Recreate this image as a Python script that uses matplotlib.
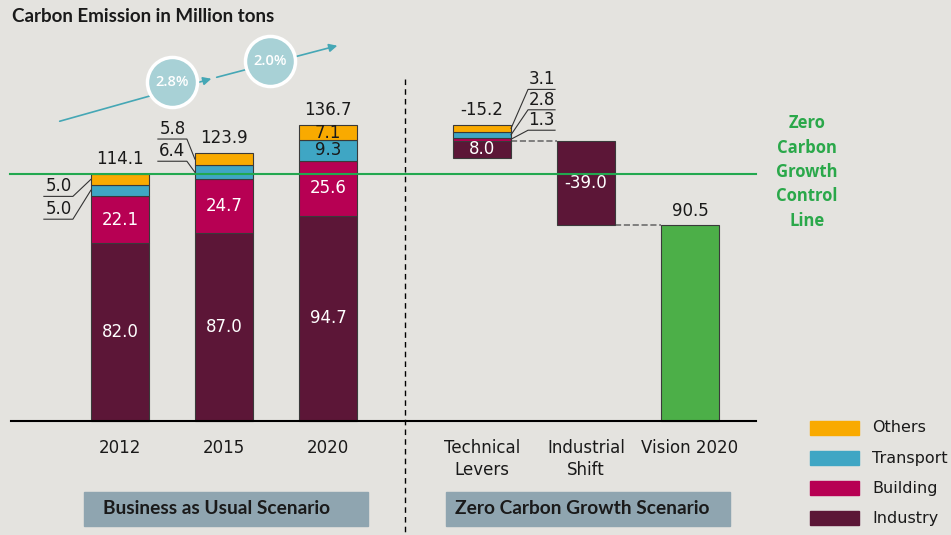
import matplotlib.pyplot as plt
import matplotlib.transforms as mtransforms
from matplotlib.patches import Rectangle

# Business as usual scenario
years = ['2012', '2015', '2020']
industry = [82.0, 87.0, 94.7]
building = [22.1, 24.7, 25.6]
transport = [5.0, 6.4, 9.3]
others = [5.0, 5.8, 7.1]
totals = [114.1, 123.9, 136.7]

# Zero carbon growth scenario
zero_labels = ['Technical\nLevers', 'Industrial\nShift', 'Vision 2020']
levers = [8.0, 1.3, 2.8, 3.1]   # industry, building, transport, others
levers_total = -15.2
industrial_shift = -39.0
vision = 90.5

growth = ['2.8%', '2.0%']
sectors = ['Others', 'Transport', 'Building', 'Industry']
colors = {'Industry': '#5c1637', 'Building': '#b70053',
          'Transport': '#3fa6c4', 'Others': '#f9aa00'}
green = '#4caf48'
line_green = '#22a84f'
bg = '#e4e3df'

W, H = 951, 535
fig = plt.figure(figsize=(W / 100, H / 100), dpi=100, facecolor=bg)
ax = fig.add_axes([0, 0, 1, 1])
ax.set_facecolor(bg)
ax.axis('off')
ax.set_xlim(-120 / 104, (W - 120) / 104)
ax.set_ylim((421 - H) / 2.165, 421 / 2.165)

# pixel transform (x from left, y from top) for layout items
pix = mtransforms.Affine2D().scale(1 / W, -1 / H).translate(0, 1) + fig.transFigure
# x in pixels, y in data units
pix_x = mtransforms.blended_transform_factory(
    mtransforms.Affine2D().scale(1 / W, 1) + fig.transFigure, ax.transData)


def to_pix(x, y):
    dx, dy = ax.transData.transform((x, y))
    return dx, H - dy


xb = [0, 1, 2]
xz = [3.48, 4.48, 5.48]
bw = 0.56
ec = '#3a3a3a'

# stacked bars
bottom = [0, 0, 0]
for name, vals in [('Industry', industry), ('Building', building),
                   ('Transport', transport), ('Others', others)]:
    ax.bar(xb, vals, bw, bottom=bottom, color=colors[name], edgecolor=ec, lw=0.8, zorder=3)
    bottom = [b + v for b, v in zip(bottom, vals)]

# labels inside bars
for i in range(3):
    ax.text(xb[i], industry[i] / 2, f'{industry[i]:.1f}', ha='center', va='center',
            color='white', fontsize=12, zorder=5)
    ax.text(xb[i], industry[i] + building[i] / 2, f'{building[i]:.1f}', ha='center',
            va='center', color='white', fontsize=12, zorder=5)
    ax.annotate(f'{totals[i]:.1f}', (xb[i], totals[i]), xytext=(0, 4),
                textcoords='offset points', ha='center', va='bottom', fontsize=12,
                color='#1a1a1a')
b2 = industry[2] + building[2]
ax.text(xb[2], b2 + transport[2] / 2, f'{transport[2]:.1f}', ha='center', va='center',
        color='#1a1a1a', fontsize=12, zorder=5)
ax.text(xb[2], b2 + transport[2] + others[2] / 2, f'{others[2]:.1f}', ha='center',
        va='center', color='#1a1a1a', fontsize=12, zorder=5)


def leader(x, y, dx, dy, length, label):
    px, py = to_pix(x, y)
    kx, ky = px + dx, py + dy
    ex = kx + length
    ax.plot([px, kx, ex], [py, ky, ky], color='#333333', lw=0.8, transform=pix,
            solid_joinstyle='miter', zorder=4)
    ax.text((kx + ex) / 2, ky - 1, label, ha='center', va='bottom', fontsize=12,
            color='#1a1a1a', transform=pix)


# small segments labelled with leaders
left = [x - bw / 2 for x in xb]
mid_o = [industry[i] + building[i] + transport[i] + others[i] / 2 for i in range(3)]
mid_t = [industry[i] + building[i] + transport[i] / 2 for i in range(3)]
leader(left[0], mid_o[0], -18, 17, -29, f'{others[0]:.1f}')
leader(left[0], mid_t[0], -18, 29, -29, f'{transport[0]:.1f}')
leader(left[1], mid_o[1], -8, -20, -29, f'{others[1]:.1f}')
leader(left[1], mid_t[1], -8, -11, -29, f'{transport[1]:.1f}')

# technical levers (floating stack)
tl_bottom = totals[2] + levers_total
b = tl_bottom
mids = []
for name, v in zip(['Industry', 'Building', 'Transport', 'Others'], levers):
    ax.bar(xz[0], v, bw, bottom=b, color=colors[name], edgecolor=ec, lw=0.8, zorder=3)
    mids.append(b + v / 2)
    b += v
ax.text(xz[0], mids[0], f'{levers[0]:.1f}', ha='center', va='center', color='white',
        fontsize=12, zorder=5)
ax.annotate(f'{levers_total:.1f}', (xz[0], totals[2]), xytext=(0, 4),
            textcoords='offset points', ha='center', va='bottom', fontsize=12,
            color='#1a1a1a')
right_tl = xz[0] + bw / 2
leader(right_tl, mids[3], 17, -39, 27, f'{levers[3]:.1f}')
leader(right_tl, mids[2], 17, -25, 27, f'{levers[2]:.1f}')
leader(right_tl, mids[1], 17, -9, 27, f'{levers[1]:.1f}')

# industrial shift and vision
is_top = vision - industrial_shift
ax.bar(xz[1], industrial_shift, bw, bottom=is_top, color=colors['Industry'],
       edgecolor=ec, lw=0.8, zorder=3)
ax.text(xz[1], is_top + industrial_shift / 2, f'{industrial_shift:.1f}', ha='center',
        va='center', color='white', fontsize=12, zorder=5)
ax.bar(xz[2], vision, bw, color=green, edgecolor=ec, lw=0.8, zorder=3)
ax.annotate(f'{vision:.1f}', (xz[2], vision), xytext=(0, 4), textcoords='offset points',
            ha='center', va='bottom', fontsize=12, color='#1a1a1a')

# connectors
ax.plot([xz[0] + bw / 2, xz[1] - bw / 2], [is_top, is_top], ls='--', color='#6e6e6e',
        lw=1.2, zorder=2)
ax.plot([xz[1] + bw / 2, xz[2] - bw / 2], [vision, vision], ls='--', color='#6e6e6e',
        lw=1.2, zorder=2)

# baseline, zero growth line, divider
ax.plot([11, 756], [421, 421], color='black', lw=1.5, transform=pix, zorder=4)
ax.plot([10, 756], [totals[0], totals[0]], color=line_green, lw=1.5, zorder=6,
        transform=pix_x)
ax.plot([405, 405], [79, 535], color='black', lw=1, ls=(0, (4, 3)), transform=pix)

ax.text(807, 172, 'Zero\nCarbon\nGrowth\nControl\nLine', ha='center', va='center',
        color='#2aa84a', fontsize=12, fontweight='bold', linespacing=1.45,
        family='Open Sans', transform=pix)

# category labels
for x, lab in zip(xb + xz, years + zero_labels):
    ax.annotate(lab, (x, 0), xytext=(0, -13), textcoords='offset points', ha='center',
                va='top', fontsize=12, color='#1a1a1a', linespacing=1.3)

# scenario boxes
for x0, x1, pad, txt in [(84, 368, 19, 'Business as Usual Scenario'),
                         (446, 730, 9, 'Zero Carbon Growth Scenario')]:
    ax.add_patch(Rectangle((x0, 492), x1 - x0, 34, transform=pix, color='#8fa5b0',
                           zorder=1))
    ax.text(x0 + pad, 509, txt, ha='left', va='center', fontsize=13.8, fontweight='bold',
            family='Lato', color='#1a1a1a', transform=pix)

# legend
for i, name in enumerate(sectors):
    y = 421 + 30 * i
    ax.add_patch(Rectangle((810, y), 49, 14, transform=pix, color=colors[name]))
    ax.text(872, y + 7, name, ha='left', va='center', fontsize=11.5, color='#1a1a1a',
            transform=pix)

# growth arrow and circles
ax.annotate('', xy=(214, 78), xytext=(57, 122), xycoords=pix, textcoords=pix,
            arrowprops=dict(arrowstyle='-|>', color='#45a7b5', lw=1.2, mutation_scale=12))
ax.annotate('', xy=(340, 45), xytext=(214, 78), xycoords=pix, textcoords=pix,
            arrowprops=dict(arrowstyle='-|>', color='#45a7b5', lw=1.2, mutation_scale=12))
for (cx, cy), g in zip([(172, 82), (270, 61)], growth):
    ax.scatter([cx], [cy], s=1300, color='#a8d1d6', edgecolors='white', linewidths=2.5,
               transform=pix, zorder=7)
    ax.text(cx, cy, g, ha='center', va='center', color='white', fontsize=10.5,
            family='Open Sans', fontweight='semibold', transform=pix, zorder=8)

fig.text(12 / W, 1 - 17 / H, 'Carbon Emission in Million tons', ha='left', va='center',
         fontsize=13.5, fontweight='bold', family='Lato', color='#1a1a1a')

fig.savefig('out.png', dpi=100, facecolor=bg)
